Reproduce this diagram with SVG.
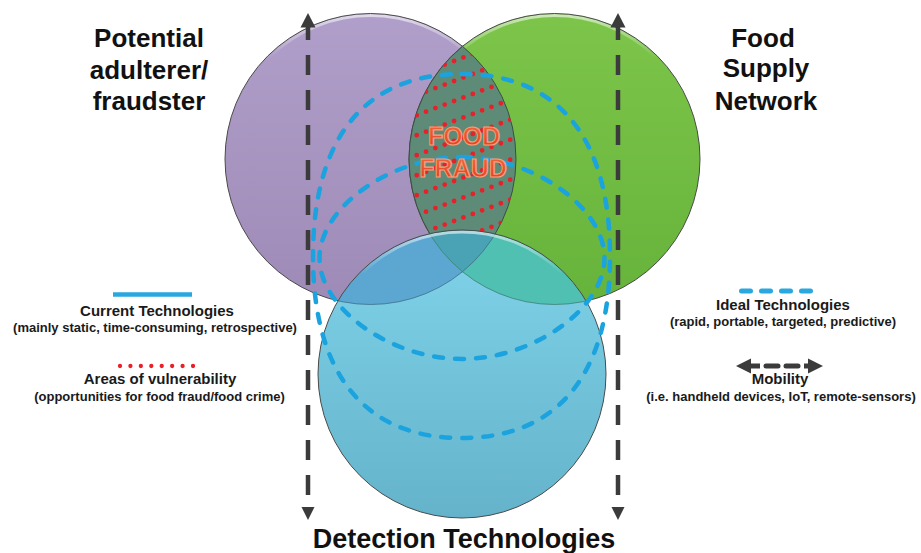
<svg xmlns="http://www.w3.org/2000/svg" width="921" height="553" viewBox="0 0 921 553">
<style>
.title{font-family:"Liberation Sans",Arial,sans-serif;font-weight:bold;font-size:26px;fill:#111;text-anchor:middle}
.lh{font-family:"Liberation Sans",Arial,sans-serif;font-weight:bold;font-size:15px;fill:#1a1a1a;text-anchor:middle}
.ls{font-family:"Liberation Sans",Arial,sans-serif;font-weight:bold;font-size:13px;fill:#1a1a1a;text-anchor:middle}
.edge{stroke:#4a4a4a;stroke-width:1;fill:none}
.rim{fill:none;stroke:url(#rim);stroke-width:3}
.dash-blue{fill:none;stroke:#1aa3df;stroke-width:4.5;stroke-dasharray:9 12;stroke-linecap:round}
.vline{stroke:#3b3b3b;stroke-width:4.5;stroke-dasharray:20 15;fill:none}
.dots{stroke:#e8202a;stroke-width:4.8;stroke-linecap:round;stroke-dasharray:0 10;fill:none}
.head{fill:#3b3b3b}
.fraud{font-family:"Liberation Sans",Arial,sans-serif;font-weight:bold;font-size:25px;fill:url(#fraudg);stroke:#f6a07a;stroke-width:1.1;text-anchor:middle}
</style>
<defs>
<linearGradient id="gp" x1="0" y1="0" x2="0" y2="1"><stop offset="0" stop-color="#b09fca"/><stop offset="1" stop-color="#9e8ab6"/></linearGradient>
<linearGradient id="gg" x1="0" y1="0" x2="0" y2="1"><stop offset="0" stop-color="#7dc54a"/><stop offset="1" stop-color="#66b33b"/></linearGradient>
<linearGradient id="gb" x1="0" y1="0" x2="0" y2="1"><stop offset="0" stop-color="#80d4ea"/><stop offset="1" stop-color="#64b3cb"/></linearGradient>
<linearGradient id="rim" x1="0" y1="0" x2="0" y2="1"><stop offset="0" stop-color="#fff" stop-opacity="0.6"/><stop offset="0.15" stop-color="#fff" stop-opacity="0"/></linearGradient>
<linearGradient id="fraudg" x1="0" y1="0" x2="0" y2="1"><stop offset="0" stop-color="#f26a3c"/><stop offset="1" stop-color="#e23a22"/></linearGradient>
<clipPath id="clipLens"><path d="M462.5 46.3 A145.5 145.5 0 0 1 462.5 271.7 A145.5 145.5 0 0 1 462.5 46.3 Z"/></clipPath>
<clipPath id="clipBlue"><circle cx="462" cy="374" r="144"/></clipPath>
</defs>

<g id="node-adulterer">
<circle cx="370.5" cy="159" r="145.5" fill="url(#gp)"/>
<circle cx="370.5" cy="159" r="143.5" class="rim"/>
<circle cx="370.5" cy="159" r="145.5" class="edge"/>
<text class="title" x="149" y="47">Potential</text>
<text class="title" x="149" y="79">adulterer/</text>
<text class="title" x="149" y="110">fraudster</text>
</g>

<g id="node-supply">
<circle cx="554.5" cy="159" r="145.5" fill="url(#gg)"/>
<circle cx="554.5" cy="159" r="143.5" class="rim"/>
<circle cx="554.5" cy="159" r="145.5" class="edge"/>
<text class="title" x="763" y="47">Food</text>
<text class="title" x="766" y="77">Supply</text>
<text class="title" x="766" y="110">Network</text>
</g>

<g id="node-fraud-zone">
<path d="M462.5 46.3 A145.5 145.5 0 0 1 462.5 271.7 A145.5 145.5 0 0 1 462.5 46.3 Z" fill="#5d8b77" stroke="#3d4d44" stroke-width="1"/>
<g clip-path="url(#clipLens)" class="dots">
<line x1="398" y1="42.3" x2="532" y2="-8.6"/>
<line x1="398" y1="62.3" x2="532" y2="11.4"/>
<line x1="398" y1="82.3" x2="532" y2="31.4"/>
<line x1="398" y1="102.3" x2="532" y2="51.4"/>
<line x1="398" y1="122.3" x2="532" y2="71.4"/>
<line x1="398" y1="142.3" x2="532" y2="91.4"/>
<line x1="398" y1="162.3" x2="532" y2="111.4"/>
<line x1="398" y1="182.3" x2="532" y2="131.4"/>
<line x1="398" y1="202.3" x2="532" y2="151.4"/>
<line x1="398" y1="222.3" x2="532" y2="171.4"/>
<line x1="398" y1="242.3" x2="532" y2="191.4"/>
<line x1="398" y1="262.3" x2="532" y2="211.4"/>
<line x1="398" y1="282.3" x2="532" y2="231.4"/>
</g>
</g>

<g id="node-detection">
<circle cx="462" cy="374" r="144" fill="url(#gb)"/>
<g clip-path="url(#clipBlue)">
<circle cx="370.5" cy="159" r="145.5" fill="#5ba7d1"/>
<circle cx="554.5" cy="159" r="145.5" fill="#4fc0b1"/>
<path d="M462.5 46.3 A145.5 145.5 0 0 1 462.5 271.7 A145.5 145.5 0 0 1 462.5 46.3 Z" fill="#49a3b4"/>
<circle cx="370.5" cy="159" r="145.5" fill="none" stroke="#3f6f88" stroke-width="0.8"/>
<circle cx="554.5" cy="159" r="145.5" fill="none" stroke="#3f7f78" stroke-width="0.8"/>
</g>
<circle cx="462" cy="374" r="142" class="rim"/>
<circle cx="462" cy="374" r="144" class="edge"/>
<text class="title" x="464" y="548" style="font-size:27px">Detection Technologies</text>
</g>

<g id="connectors">
<path class="dash-blue" d="M461.5 74 C558 74 610 137.7 610 256 C610 374.3 558 438 461.5 438 C365 438 313 374.3 313 256 C313 137.7 365 74 461.5 74 Z"/>
<path class="dash-blue" d="M462 157 C533.25 157 604.5 207.5 604.5 258 C604.5 308.5 533.25 359 462 359 C390.75 359 319.5 308.5 319.5 258 C319.5 207.5 390.75 157 462 157 Z"/>
<line class="vline" x1="308" y1="20" x2="308" y2="495"/>
<polygon class="head" points="308,13 300.5,27.5 315.5,27.5"/>
<polygon class="head" points="301.5,507 314.5,507 308,520"/>
<line class="vline" x1="618" y1="20" x2="618" y2="495"/>
<polygon class="head" points="618,13 610.5,27.5 625.5,27.5"/>
<polygon class="head" points="611.5,507 624.5,507 618,520"/>
</g>

<g id="fraud-label">
<text class="fraud" x="464" y="145">FOOD</text>
<text class="fraud" x="463" y="177">FRAUD</text>
</g>

<g id="legend-current">
<line x1="113" y1="294.5" x2="192" y2="294.5" stroke="#29a8e0" stroke-width="4.5"/>
<text class="lh" x="157" y="316">Current Technologies</text>
<text class="ls" x="155" y="332">(mainly static, time-consuming, retrospective)</text>
</g>

<g id="legend-vulnerability">
<line class="dots" x1="120" y1="366" x2="193.5" y2="366" style="stroke-dasharray:0 10.43;stroke-width:4.3"/>
<text class="lh" x="160" y="384">Areas of vulnerability</text>
<text class="ls" x="159.5" y="400.5">(opportunities for food fraud/food crime)</text>
</g>

<g id="legend-ideal">
<line x1="741.5" y1="291" x2="811" y2="291" stroke="#29a8e0" stroke-width="5" stroke-linecap="round" stroke-dasharray="9 11"/>
<text class="lh" x="783" y="310">Ideal Technologies</text>
<text class="ls" x="783" y="325.5">(rapid, portable, targeted, predictive)</text>
</g>

<g id="legend-mobility">
<polygon class="head" points="736,366 751,358.5 751,373.5"/>
<line x1="750" y1="366" x2="760" y2="366" stroke="#3b3b3b" stroke-width="5"/>
<line x1="766" y1="366" x2="778" y2="366" stroke="#3b3b3b" stroke-width="5" stroke-linecap="round"/>
<line x1="786" y1="366" x2="798" y2="366" stroke="#3b3b3b" stroke-width="5" stroke-linecap="round"/>
<line x1="804" y1="366" x2="809" y2="366" stroke="#3b3b3b" stroke-width="5"/>
<polygon class="head" points="823,366 808,358.5 808,373.5"/>
<text class="lh" x="780" y="384">Mobility</text>
<text class="ls" x="781" y="400.5">(i.e. handheld devices, IoT, remote-sensors)</text>
</g>
</svg>
